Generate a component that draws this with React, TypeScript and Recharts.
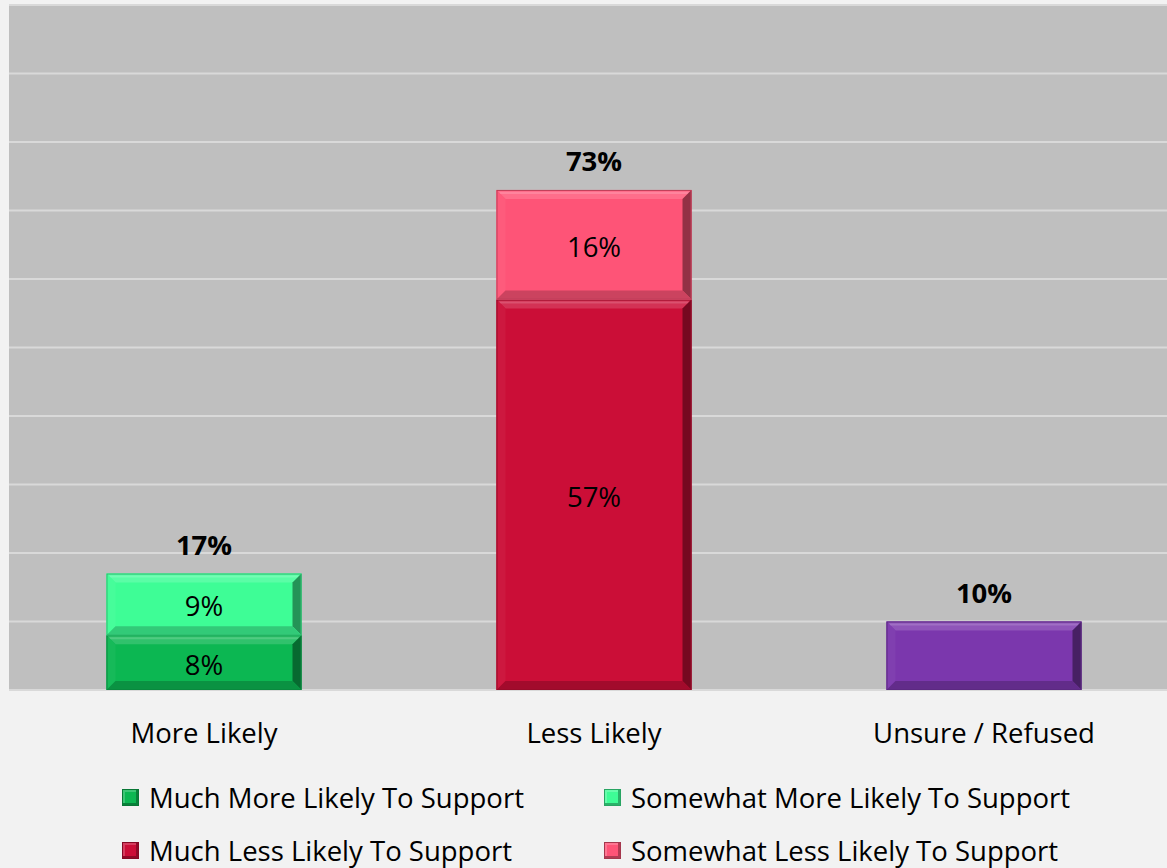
import React from "react";
import { BarChart, Bar, XAxis, YAxis, CartesianGrid, Legend, LabelList } from "recharts";

const categories = ["More Likely", "Less Likely", "Unsure / Refused"];
const muchMore = [8, 0, 0];
const someMore = [9, 0, 0];
const muchLess = [0, 57, 0];
const someLess = [0, 16, 0];
const unsure = [0, 0, 10];
const totals = [17, 73, 10];
const yTicks = [0, 10, 20, 30, 40, 50, 60, 70, 80, 90, 100];

const SERIES = [
  { key: "muchMore", name: "Much More Likely To Support", color: "#0cb752", values: muchMore, inside: true },
  { key: "someMore", name: "Somewhat More Likely To Support", color: "#3efd96", values: someMore, inside: true },
  { key: "muchLess", name: "Much Less Likely To Support", color: "#cb0e37", values: muchLess, inside: true },
  { key: "someLess", name: "Somewhat Less Likely To Support", color: "#fe5477", values: someLess, inside: true },
  { key: "unsure", name: "Unsure / Refused", color: "#7b37ad", values: unsure, inside: false },
];

const data = categories.map((c, i) => {
  const row: any = { name: c };
  SERIES.forEach((s) => (row[s.key] = s.values[i]));
  return row;
});

// last series with a value is the one that gets the total on top
const topKey = categories.map((_, i) => {
  let k = null;
  SERIES.forEach((s) => {
    if (s.values[i] > 0) k = s.key;
  });
  return k;
});

const FONT = "'Open Sans', sans-serif";
const FS = 27.5;

function mix(hex: string, to: string, t: number) {
  const a = parseInt(hex.slice(1), 16);
  const b = parseInt(to.slice(1), 16);
  const ch = (v: number, s: number) => (v >> s) & 255;
  const r = Math.round(ch(a, 16) + (ch(b, 16) - ch(a, 16)) * t);
  const g = Math.round(ch(a, 8) + (ch(b, 8) - ch(a, 8)) * t);
  const bl = Math.round(ch(a, 0) + (ch(b, 0) - ch(a, 0)) * t);
  return `rgb(${r},${g},${bl})`;
}

function BevelBar(props: any) {
  const { x, y, width: w, height: h, fill } = props;
  if (!h || h <= 0) return null;
  const b = Math.min(9, h / 3);
  return (
    <g>
      <rect x={x} y={y} width={w} height={h} fill={fill} />
      <polygon points={`${x},${y} ${x + w},${y} ${x + w - b},${y + b} ${x + b},${y + b}`} fill={mix(fill, "#ffffff", 0.15)} />
      <line x1={x + 3} y1={y + 3} x2={x + w - 3} y2={y + 3} stroke={mix(fill, "#ffffff", 0.28)} strokeWidth={2} />
      <polygon points={`${x},${y} ${x + b},${y + b} ${x + b},${y + h - b} ${x},${y + h}`} fill={mix(fill, "#ffffff", 0.04)} />
      <polygon points={`${x + w},${y} ${x + w},${y + h} ${x + w - b},${y + h - b} ${x + w - b},${y + b}`} fill={mix(fill, "#000000", 0.42)} />
      <polygon points={`${x},${y + h} ${x + b},${y + h - b} ${x + w - b},${y + h - b} ${x + w},${y + h}`} fill={mix(fill, "#000000", 0.2)} />
      <rect x={x + 0.5} y={y + 0.5} width={w - 1} height={h - 1} fill="none" stroke={mix(fill, "#000000", 0.25)} strokeWidth={1} />
    </g>
  );
}

function makeLabel(s: any) {
  return (props: any) => {
    const { x, y, width, height, index } = props;
    const v = s.values[index];
    if (!v) return null;
    const out = [];
    if (s.inside) {
      out.push(
        <text key="in" x={x + width / 2} y={y + height / 2 + 12} textAnchor="middle" fontSize={FS} fill="#000" fontFamily={FONT}>
          {v}%
        </text>
      );
    }
    if (topKey[index] === s.key) {
      out.push(
        <text key="tot" x={x + width / 2} y={y - 19} textAnchor="middle" fontSize={FS} fontWeight="bold" fill="#000" fontFamily={FONT}>
          {totals[index]}%
        </text>
      );
    }
    return <g>{out}</g>;
  };
}

function CatTick(props: any) {
  const { x, y, payload } = props;
  return (
    <text x={x} y={y + 53} textAnchor="middle" fontSize={FS} fill="#000" fontFamily={FONT}>
      {payload.value}
    </text>
  );
}

function LegendGrid(props: any) {
  const items = (props.payload || []).filter((p: any) => p.type !== "none");
  const order = SERIES.map((s) => s.name);
  items.sort((a: any, b: any) => order.indexOf(a.value) - order.indexOf(b.value));
  return (
    <div style={{ display: "grid", gridTemplateColumns: "482px 500px", paddingLeft: 122, fontFamily: FONT, fontSize: FS, color: "#000" }}>
      {items.map((p: any, i: number) => (
        <div key={i} style={{ display: "flex", alignItems: "center", height: 53, marginTop: i < 2 ? -4 : 0, whiteSpace: "nowrap" }}>
          <span
            style={{
              width: 15,
              height: 15,
              background: p.color,
              border: `1px solid ${mix(p.color, "#000000", 0.35)}`,
              boxShadow: `inset -2px -2px 0 ${mix(p.color, "#000000", 0.3)}, inset 2px 2px 0 ${mix(p.color, "#ffffff", 0.2)}`,
              marginRight: 10,
              display: "inline-block",
              flexShrink: 0,
            }}
          />
          <span>{p.value}</span>
        </div>
      ))}
    </div>
  );
}

export default function App() {
  return (
    <div style={{ width: 1167, height: 868, background: "#f2f2f2", fontFamily: FONT, position: "absolute", left: 0, top: 0, overflow: "hidden" }}>
      <BarChart width={1179} height={868} data={data} margin={{ top: 5, right: 0, left: 9, bottom: 0 }} barCategoryGap="25%">
        <CartesianGrid vertical={false} stroke="#d9d9d9" strokeWidth={2} fill="#bfbfbf" />
        <YAxis hide domain={[0, 100]} ticks={yTicks} />
        <XAxis dataKey="name" axisLine={false} tickLine={false} tickSize={0} tickMargin={0} height={85} tick={<CatTick />} interval={0} />
        <Legend verticalAlign="bottom" content={<LegendGrid />} wrapperStyle={{ left: 0, width: 1167, height: 93 }} />
        {SERIES.map((s) => (
          <Bar
            key={s.key}
            dataKey={s.key}
            name={s.name}
            stackId="a"
            fill={s.color}
            shape={<BevelBar />}
            legendType={s.inside ? "square" : "none"}
            isAnimationActive={false}
          >
            <LabelList content={makeLabel(s)} />
          </Bar>
        ))}
      </BarChart>
    </div>
  );
}
